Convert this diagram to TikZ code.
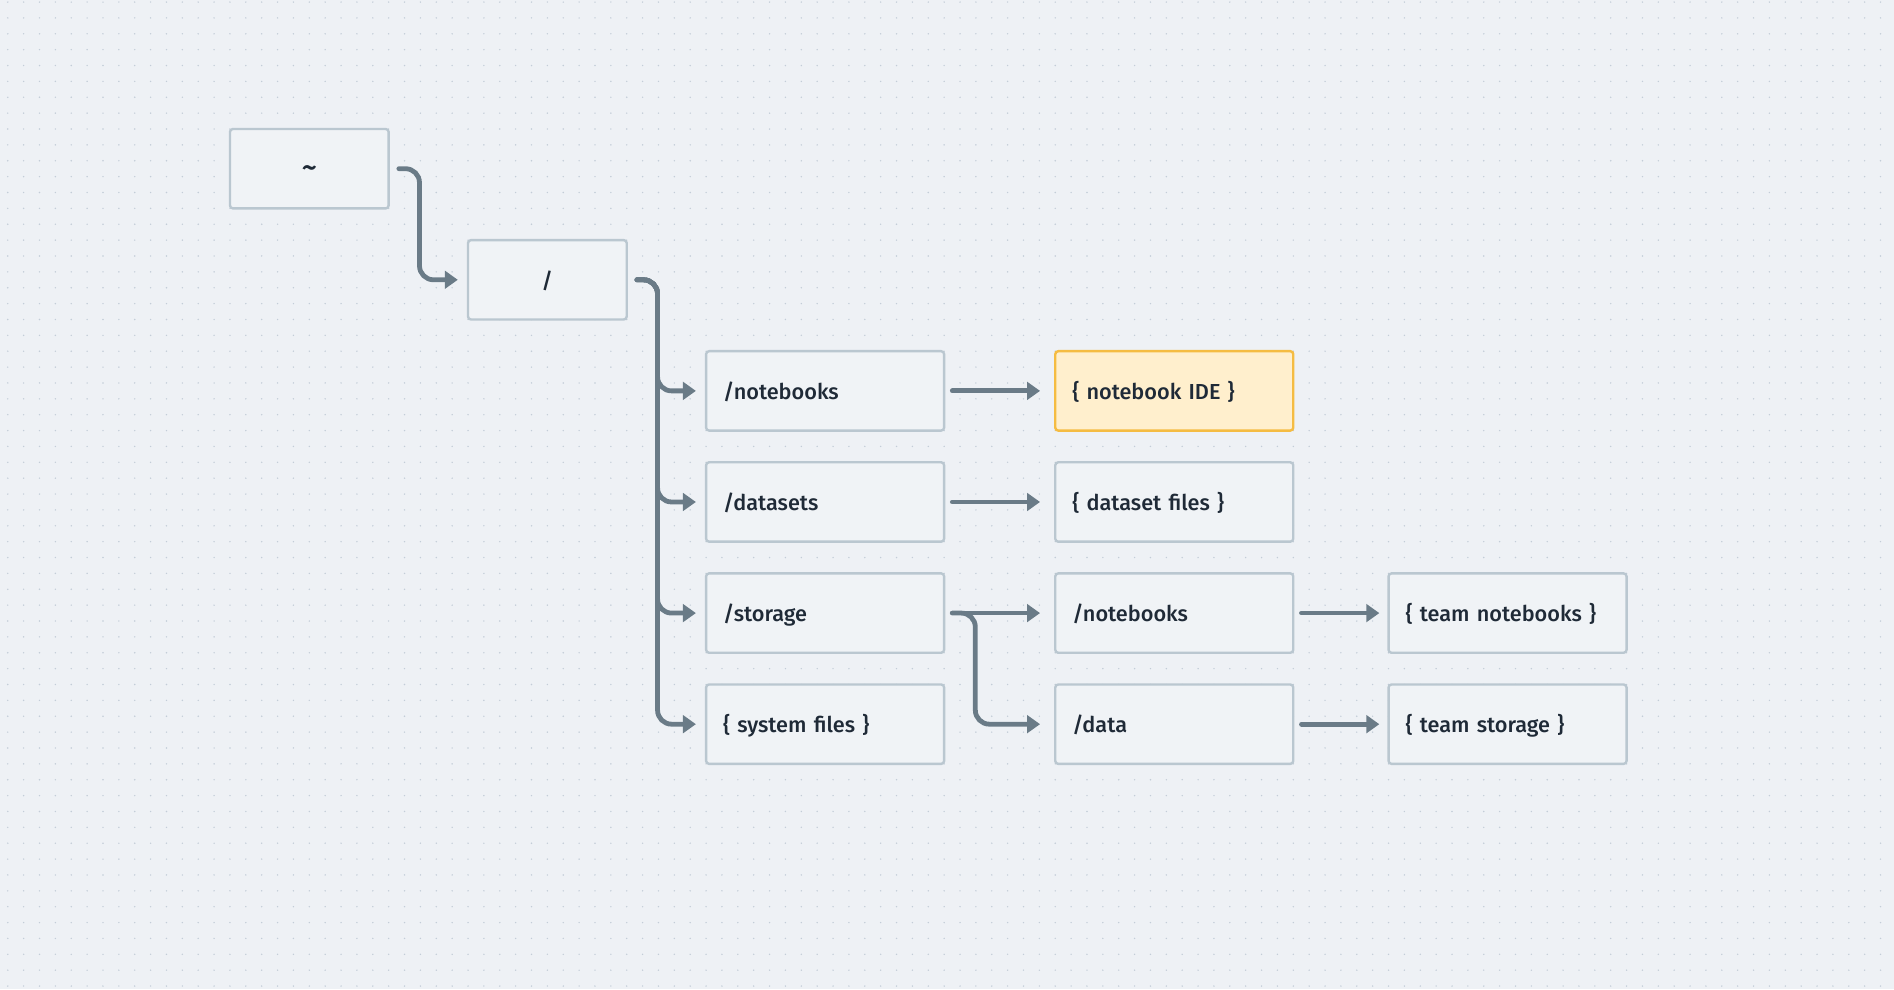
\documentclass[tikz,border=0pt]{standalone}
\usepackage{fontspec}
\setmainfont{Fira Sans Medium}
\usetikzlibrary{arrows.meta}

\definecolor{paper}{HTML}{EEF1F5}
\definecolor{griddot}{HTML}{C3CDD8}
\definecolor{boxfill}{HTML}{F0F3F6}
\definecolor{boxline}{HTML}{BAC7D0}
\definecolor{linkcol}{HTML}{6A7B87}
\definecolor{ink}{HTML}{1F2A37}
\definecolor{idefill}{HTML}{FFEFCD}
\definecolor{ideline}{HTML}{F5BC42}

\begin{document}
\begin{tikzpicture}
[
  x=15.87pt, y=-15.87pt,
  every node/.style={font=\fontsize{21.7}{26}\selectfont, text=ink},
  dotrow/.style={draw=griddot, line width=1.6pt, line cap=round, dash pattern=on 0pt off 15.87pt},
  rootbox/.style={draw=boxline, fill=boxfill, line width=2.4pt, rounded corners=3pt,
    minimum width=158.7pt, minimum height=79.4pt, inner sep=0pt, text height=20pt, text depth=3pt},
  dirbox/.style={rootbox, minimum width=238pt, inner xsep=17pt, text width=204pt, align=left},
  idebox/.style={dirbox, draw=ideline, fill=idefill},
  link/.style={draw=linkcol, line width=4.8pt, line cap=round, rounded corners=14pt,
    -{Triangle[length=13pt,width=17.5pt]}},
]
\useasboundingbox (-14.49,-8.13) rectangle (104.85,54.19);
\fill[paper] (-14.49,-8.13) rectangle (104.85,54.19);

\foreach \j in {-8,...,54} {
  \draw[dotrow] (-14,\j) -- (104.5,\j);
}

\node[rootbox] (tilde) at (5,2.5) {\fontsize{30}{30}\selectfont\textasciitilde};
\node[rootbox] (slash) at (20,9.5) {/};

\node[dirbox] (nb)  at (37.5,16.5) {/notebooks};
\node[dirbox] (ds)  at (37.5,23.5) {/datasets};
\node[dirbox] (st)  at (37.5,30.5) {/storage};
\node[dirbox] (sys) at (37.5,37.5) {\{ system files \}};

\node[idebox] (ide)   at (59.5,16.5) {\{ notebook IDE \}};
\node[dirbox] (files) at (59.5,23.5) {\{ dataset files \}};
\node[dirbox] (nbtwo) at (59.5,30.5) {/notebooks};
\node[dirbox] (data)  at (59.5,37.5) {/data};

\node[dirbox] (teamnb) at (80.5,30.5) {\{ team notebooks \}};
\node[dirbox] (teamst) at (80.5,37.5) {\{ team storage \}};

\draw[link] ([xshift=9pt]tilde.east) -- ++(1.3,0) |- ([xshift=-9pt]slash.west);

\foreach \r in {nb,ds,st,sys} {
  \draw[link] ([xshift=9pt]slash.east) -- ++(1.3,0) |- ([xshift=-9pt]\r.west);
}

\draw[link] ([xshift=7pt]nb.east) -- ([xshift=-14pt]ide.west);
\draw[link] ([xshift=7pt]ds.east) -- ([xshift=-14pt]files.west);
\draw[link] ([xshift=7pt]st.east) -- ([xshift=-14pt]nbtwo.west);
\draw[link] ([xshift=7pt]st.east) -- ++(1.45,0) |- ([xshift=-14pt]data.west);

\draw[link] ([xshift=7pt]nbtwo.east) -- ([xshift=-8pt]teamnb.west);
\draw[link] ([xshift=7pt]data.east) -- ([xshift=-8pt]teamst.west);

\end{tikzpicture}
\end{document}
